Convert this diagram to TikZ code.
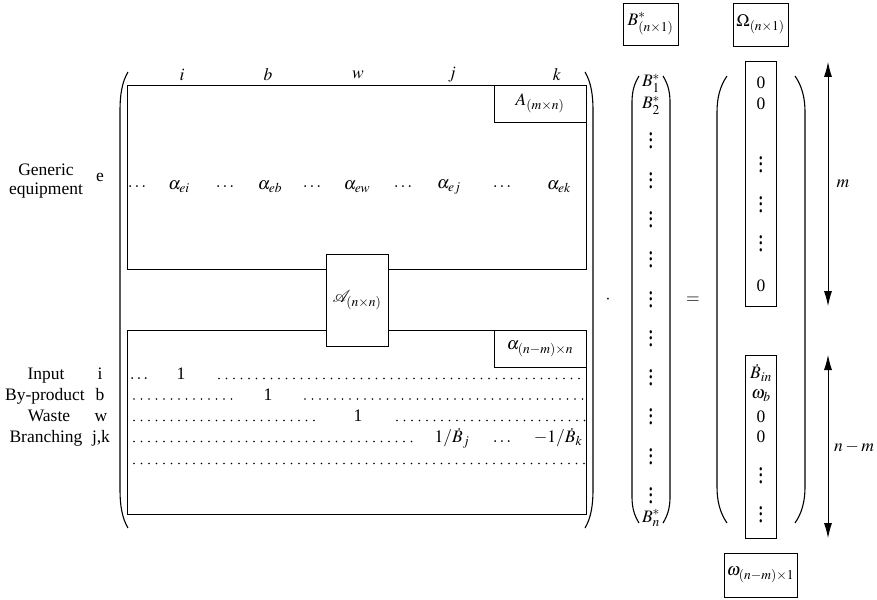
\documentclass[tikz,border=0pt]{standalone}
\usepackage{mathptmx}
\usepackage{mathrsfs}
\usepackage{fontspec}
\setmainfont{Liberation Serif}
\usetikzlibrary{arrows.meta}
\DeclareMathSizes{17.5}{17.5}{13.5}{10}
\newcommand{\tallvd}{\scalebox{1.15}[1.55]{$\vdots$}}
\begin{document}
\begin{tikzpicture}[x=1pt,y=-1pt,
  every node/.style={inner sep=0pt, font=\fontsize{17.5}{19}\selectfont},
  box/.style={draw, line width=0.7pt},
  dotrow/.style={line width=1.7pt, line cap=round, dash pattern=on 0pt off 7.5pt},
  paren/.style={line width=1.1pt},
  bl/.style={anchor=base},
  dimarrow/.style={line width=0.8pt, {Latex[length=15pt,width=8pt]}-{Latex[length=15pt,width=8pt]}}]
\useasboundingbox (0,0) rectangle (877,599);

% big matrix boxes
\draw[line width=0.7pt] (127,85) rectangle (586,269);
\draw[line width=0.7pt] (127,330) rectangle (586,514);
\node[box, fill=white, minimum width=62pt, minimum height=92pt] (Acal) at (357,300) {$\mathscr{A}_{(n\times n)}$};
\node[box, minimum width=92pt, minimum height=37pt] (Abox) at (540,103.5) {$A_{(m\times n)}$};
\node[box, minimum width=92pt, minimum height=37pt] (abox) at (540,348.5) {$\alpha_{(n-m)\times n}$};

% matrix parens
\draw[paren] (128,72) .. controls (122,82) and (120,95) .. (120,110) -- (120,490) .. controls (120,505) and (122,518) .. (128,528);
\draw[paren] (585,72) .. controls (591,82) and (593,95) .. (593,110) -- (593,490) .. controls (593,505) and (591,518) .. (585,528);

% column headers
\node (ci) at (182,75) {$i$};
\node (cb) at (268,75) {$b$};
\node (cw) at (358,75) {$w$};
\node (cj) at (452,75) {$j$};
\node (ck) at (557,75) {$k$};

% generic equipment row
\node[align=center] (ge) at (46,181) {Generic\\equipment};
\node (e) at (100,177) {e};
\node (d1) at (137,187) {$\ldots$};
\node (aei) at (179,187) {$\alpha_{ei}$};
\node (d2) at (225,187) {$\ldots$};
\node (aeb) at (270,187) {$\alpha_{eb}$};
\node (d3) at (312,187) {$\ldots$};
\node (aew) at (357,187) {$\alpha_{ew}$};
\node (d4) at (403,187) {$\ldots$};
\node (aej) at (449,187) {$\alpha_{ej}$};
\node (d5) at (502,187) {$\ldots$};
\node (aek) at (559,187) {$\alpha_{ek}$};

% lower rows labels
\node[bl] (lin) at (46,379.5) {Input};
\node[bl] (lby) at (45,400) {By-product};
\node[bl] (lwa) at (49,421.5) {Waste};
\node[bl] (lbr) at (46,442.5) {Branching};
\node[bl] (ri) at (100,379.5) {i};
\node[bl] (rb) at (100,400) {b};
\node[bl] (rw) at (101,421.5) {w};
\node[bl] (rjk) at (101,442.5) {j,k};

% row 1
\node[bl] (r1d) at (139,379.5) {$\ldots$};
\node[bl] (r1one) at (181,379.5) {1};
\draw[dotrow] (219,378.5) -- (585,378.5);
% row 2
\draw[dotrow] (134,399) -- (233,399);
\node[bl] (r2one) at (268,400) {1};
\draw[dotrow] (305,399) -- (585,399);
% row 3
\draw[dotrow] (134,420.5) -- (320,420.5);
\node[bl] (r3one) at (358,421.5) {1};
\draw[dotrow] (397,420.5) -- (585,420.5);
% row 4
\draw[dotrow] (134,441.5) -- (412,441.5);
\node[bl] (r4j) at (452,442.5) {$1/\dot{B}_j$};
\node[bl] (r4d) at (502,442.5) {$\ldots$};
\node[bl] (r4k) at (558,442.5) {$-1/\dot{B}_k$};
% row 5
\draw[dotrow] (134,463.5) -- (585,463.5);

% multiplication dot and equals
\node (cdot) at (608,300) {$\cdot$};
\node (eq) at (693,300) {$=$};

% B* vector
\node[box, minimum width=55pt, minimum height=42pt] (Bbox) at (650.5,24) {$B^*_{(n\times 1)}$};
\draw[paren] (639,76) .. controls (634,84) and (632,92) .. (632,102) -- (632,497) .. controls (632,507) and (634,515) .. (639,523);
\draw[paren] (663,76) .. controls (668,84) and (670,92) .. (670,102) -- (670,497) .. controls (670,507) and (668,515) .. (663,523);
\node (b1) at (651,83) {$B_1^*$};
\node (b2) at (651,105) {$B_2^*$};
\node (v1) at (651,136) {\tallvd};
\node (v2) at (651,176) {\tallvd};
\node (v3) at (651,215) {\tallvd};
\node (v4) at (651,255) {\tallvd};
\node (v5) at (651,295) {\tallvd};
\node (v6) at (651,334) {\tallvd};
\node (v7) at (651,373) {\tallvd};
\node (v8) at (651,412) {\tallvd};
\node (v9) at (651,452) {\tallvd};
\node (v10) at (651,491) {\tallvd};
\node (bn) at (651,518) {$B_n^*$};

% Omega vector
\node[box, minimum width=55pt, minimum height=43pt] (Obox) at (760.5,24.5) {$\Omega_{(n\times 1)}$};
\draw[paren] (727,76) .. controls (720,86) and (717,98) .. (717,112) -- (717,487) .. controls (717,501) and (720,513) .. (727,523);
\draw[paren] (795,76) .. controls (802,86) and (805,98) .. (805,112) -- (805,487) .. controls (805,501) and (802,513) .. (795,523);
\draw[line width=0.7pt] (745,61) rectangle (776,306);
\draw[line width=0.7pt] (745,355) rectangle (776,538);
\node (o1) at (761,83) {0};
\node (o2) at (761,104) {0};
\node (ov1) at (761,160) {\tallvd};
\node (ov2) at (761,200) {\tallvd};
\node (ov3) at (761,239) {\tallvd};
\node (o3) at (761,286) {0};
\node (p1) at (761,373) {$\dot{B}_{in}$};
\node (p2) at (761,396) {$\omega_b$};
\node (p3) at (761,417) {0};
\node (p4) at (761,437) {0};
\node (pv1) at (761,471) {\tallvd};
\node (pv2) at (761,510) {\tallvd};
\node[box, minimum width=73pt, minimum height=44pt] (wbox) at (760.5,575) {$\omega_{(n-m)\times 1}$};

% dimension arrows
\coordinate (m1) at (828,62);
\coordinate (m2) at (828,306);
\coordinate (n1) at (828,355);
\coordinate (n2) at (828,538);
\draw[dimarrow] (m1) -- (m2);
\draw[dimarrow] (n1) -- (n2);
\node (mlab) at (843,184) {$m$};
\node (nlab) at (854,447) {$n-m$};
\end{tikzpicture}
\end{document}
